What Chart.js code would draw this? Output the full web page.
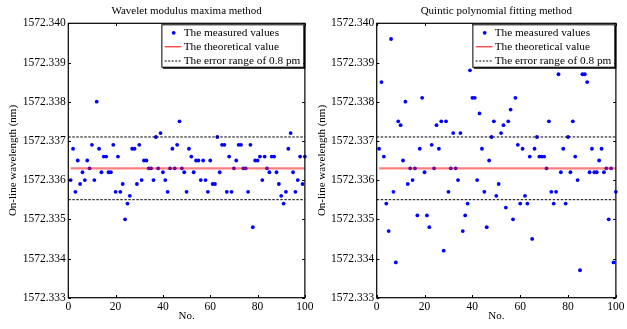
<!DOCTYPE html>
<html>
<head>
<meta charset="utf-8">
<script src="https://cdn.jsdelivr.net/npm/chart.js@4/dist/chart.umd.min.js"></script>
<style>
  html, body { margin: 0; padding: 0; background: #fff; }
  #wrap { position: relative; width: 627px; height: 329px; overflow: hidden; }
  canvas { position: absolute; top: 0; }
</style>
</head>
<body>
<div id="wrap">
  <canvas id="c1" width="316" height="329" style="left:0px"></canvas>
  <canvas id="c2" width="314" height="329" style="left:313px"></canvas>
</div>
<script>
// ---------- data ----------
const sampleNo = Array.from({length: 100}, (_, i) => i + 1);

const waveletValues = [
  1572.3360, 1572.3368, 1572.3357, 1572.3365, 1572.3359, 1572.3362, 1572.3360, 1572.3365, 1572.3363, 1572.3369,
  1572.3360, 1572.3380, 1572.3368, 1572.3362, 1572.3366, 1572.3366, 1572.3362, 1572.3362, 1572.3369, 1572.3357,
  1572.3366, 1572.3357, 1572.3359, 1572.3350, 1572.3354, 1572.3356, 1572.3368, 1572.3368, 1572.3359, 1572.3369,
  1572.3360, 1572.3365, 1572.3365, 1572.3363, 1572.3363, 1572.3360, 1572.3371, 1572.3363, 1572.3372, 1572.3362,
  1572.3360, 1572.3357, 1572.3363, 1572.3368, 1572.3363, 1572.3369, 1572.3375, 1572.3363, 1572.3362, 1572.3357,
  1572.3368, 1572.3366, 1572.3362, 1572.3365, 1572.3365, 1572.3360, 1572.3365, 1572.3360, 1572.3357, 1572.3365,
  1572.3359, 1572.3359, 1572.3371, 1572.3362, 1572.3369, 1572.3369, 1572.3357, 1572.3366, 1572.3357, 1572.3363,
  1572.3365, 1572.3369, 1572.3369, 1572.3363, 1572.3363, 1572.3357, 1572.3369, 1572.3348, 1572.3365, 1572.3365,
  1572.3366, 1572.3360, 1572.3366, 1572.3363, 1572.3362, 1572.3366, 1572.3366, 1572.3362, 1572.3359, 1572.3356,
  1572.3354, 1572.3357, 1572.3368, 1572.3372, 1572.3362, 1572.3357, 1572.3360, 1572.3366, 1572.3359, 1572.3366
];

const quinticValues = [
  1572.3368, 1572.3385, 1572.3366, 1572.3354, 1572.3347, 1572.3396, 1572.3357, 1572.3339, 1572.3375, 1572.3374,
  1572.3365, 1572.3380, 1572.3359, 1572.3363, 1572.3360, 1572.3363, 1572.3351, 1572.3368, 1572.3381, 1572.3362,
  1572.3351, 1572.3348, 1572.3369, 1572.3363, 1572.3374, 1572.3368, 1572.3375, 1572.3342, 1572.3375, 1572.3357,
  1572.3363, 1572.3372, 1572.3363, 1572.3360, 1572.3372, 1572.3347, 1572.3351, 1572.3354, 1572.3388, 1572.3381,
  1572.3381, 1572.3360, 1572.3377, 1572.3368, 1572.3357, 1572.3348, 1572.3365, 1572.3371, 1572.3375, 1572.3356,
  1572.3359, 1572.3372, 1572.3374, 1572.3353, 1572.3375, 1572.3378, 1572.3350, 1572.3381, 1572.3369, 1572.3354,
  1572.3368, 1572.3356, 1572.3354, 1572.3366, 1572.3345, 1572.3368, 1572.3371, 1572.3366, 1572.3366, 1572.3366,
  1572.3363, 1572.3375, 1572.3357, 1572.3354, 1572.3357, 1572.3387, 1572.3362, 1572.3368, 1572.3354, 1572.3371,
  1572.3362, 1572.3375, 1572.3366, 1572.3360, 1572.3337, 1572.3387, 1572.3387, 1572.3385, 1572.3362, 1572.3368,
  1572.3362, 1572.3362, 1572.3365, 1572.3368, 1572.3362, 1572.3363, 1572.3350, 1572.3363, 1572.3339, 1572.3357
];

const theoreticalValue = 1572.3363;
const errorRange = 0.0008;
const theoryRangeX = [1, 100];
const errorRangeX = [0, 100];

const yTickValues = [1572.333, 1572.334, 1572.335, 1572.336, 1572.337, 1572.338, 1572.339, 1572.340];
const yTickLabels = ['1572.333', '1572.334', '1572.335', '1572.336', '1572.337', '1572.338', '1572.339', '1572.340'];
const xTickValues = [0, 20, 40, 60, 80, 100];
const xTickLabels = ['0', '20', '40', '60', '80', '100'];

const chartTitles = ['Wavelet modulus maxima method', 'Quintic polynomial fitting method'];
const legendLabels = ['The measured values', 'The theoretical value', 'The error range of 0.8 pm'];
const xAxisTitle = 'No.';
const yAxisTitle = 'On-line wavelength (nm)';

// ---------- styling ----------
const FONT = '"Liberation Serif", "Times New Roman", "DejaVu Serif", serif';
const BLUE = '#0000ff';

const framePlugin = {
  id: 'frame',
  afterDatasetsDraw(chart) {
    const {ctx, chartArea: a, scales} = chart;
    const tl = 2.7;
    ctx.save();
    ctx.strokeStyle = '#000';
    ctx.lineWidth = 1;
    ctx.beginPath();
    for (const t of scales.x.ticks) {
      const px = Math.round(scales.x.getPixelForValue(t.value)) + 0.5;
      ctx.moveTo(px, a.bottom); ctx.lineTo(px, a.bottom - tl);
      ctx.moveTo(px, a.top); ctx.lineTo(px, a.top + tl);
    }
    for (const t of scales.y.ticks) {
      const py = Math.round(scales.y.getPixelForValue(t.value)) + 0.5;
      ctx.moveTo(a.left, py); ctx.lineTo(a.left + tl, py);
      ctx.moveTo(a.right, py); ctx.lineTo(a.right - tl, py);
    }
    ctx.stroke();
    ctx.lineWidth = 1.2;
    ctx.strokeRect(a.left, a.top, a.right - a.left, a.bottom - a.top);
    ctx.restore();
  },
  afterDraw(chart) {
    const {ctx, chartArea: a} = chart;
    ctx.save();
    // chart title centred over the plot area
    ctx.fillStyle = '#000';
    ctx.font = '11px ' + FONT;
    ctx.textAlign = 'center';
    ctx.textBaseline = 'middle';
    ctx.fillText(chart.options.plugins.frame.title, (a.left + a.right) / 2, 11);

    const w = 142, h = 42.4;
    const x0 = a.right - w - 1.5, y0 = a.top + 1;
    ctx.fillStyle = '#fff';
    ctx.fillRect(x0, y0, w, h);
    ctx.strokeStyle = '#000';
    ctx.lineWidth = 1;
    ctx.strokeRect(x0 + 0.5, y0 + 0.5, w, h);
    ctx.lineWidth = 1.5;
    ctx.beginPath();
    ctx.moveTo(x0 + w + 1.2, y0 + 1.5); ctx.lineTo(x0 + w + 1.2, y0 + h + 1.2);
    ctx.lineTo(x0 + 1.5, y0 + h + 1.2);
    ctx.stroke();
    const rows = [y0 + 8.5, y0 + 22, y0 + 36.2];
    ctx.fillStyle = BLUE;
    ctx.beginPath(); ctx.arc(x0 + 12.3, rows[0], 1.9, 0, Math.PI * 2); ctx.fill();
    ctx.strokeStyle = '#ff0000'; ctx.lineWidth = 1;
    ctx.beginPath(); ctx.moveTo(x0 + 3.3, rows[1] + 0.5); ctx.lineTo(x0 + 20, rows[1] + 0.5); ctx.stroke();
    ctx.strokeStyle = '#000'; ctx.setLineDash([2, 1.5]);
    ctx.beginPath(); ctx.moveTo(x0 + 3.3, rows[2] + 0.5); ctx.lineTo(x0 + 20, rows[2] + 0.5); ctx.stroke();
    ctx.setLineDash([]);
    ctx.fillStyle = '#000';
    ctx.font = '11.3px ' + FONT;
    ctx.textBaseline = 'middle';
    ctx.textAlign = 'left';
    legendLabels.forEach((s, i) => ctx.fillText(s, x0 + 22.3, rows[i] + 0.5));
    ctx.restore();
  }
};

function makeChart(id, values, title, yAxisWidth, padRight, yTitlePad) {
  const measured = sampleNo.map((n, i) => ({x: n, y: values[i]}));
  const theory = theoryRangeX.map(x => ({x, y: theoreticalValue}));
  const upper = errorRangeX.map(x => ({x, y: +(theoreticalValue + errorRange).toFixed(4)}));
  const lower = errorRangeX.map(x => ({x, y: +(theoreticalValue - errorRange).toFixed(4)}));
  return new Chart(document.getElementById(id), {
    type: 'scatter',
    data: {
      datasets: [
        {label: legendLabels[1], data: theory, type: 'line', showLine: true, pointRadius: 0,
         borderColor: 'rgba(245,20,20,0.55)', borderWidth: 2.2, order: 0, clip: false},
        {label: legendLabels[2], data: upper, type: 'line', showLine: true, pointRadius: 0,
         borderColor: '#000', borderWidth: 1, borderDash: [2.5, 1.5], order: 1},
        {label: legendLabels[2], data: lower, type: 'line', showLine: true, pointRadius: 0,
         borderColor: '#000', borderWidth: 1, borderDash: [2.5, 1.5], order: 1},
        {label: legendLabels[0], data: measured, pointRadius: 1.9, pointHoverRadius: 1.9,
         backgroundColor: BLUE, borderColor: BLUE, borderWidth: 0, order: 2, clip: false}
      ]
    },
    options: {
      responsive: false,
      animation: false,
      devicePixelRatio: 1,
      layout: {padding: {left: 0, right: padRight, top: 23.3, bottom: 0}},
      plugins: {
        legend: {display: false},
        tooltip: {enabled: false},
        title: {display: false},
        frame: {title: title}
      },
      scales: {
        x: {
          type: 'linear', min: xTickValues[0], max: xTickValues[xTickValues.length - 1],
          afterBuildTicks: s => { s.ticks = xTickValues.map(v => ({value: v})); },
          afterFit: s => { s.height = 31.3; },
          ticks: {color: '#000', font: {family: FONT, size: 11.5}, padding: 2.5,
                  callback: (v, i) => xTickLabels[i], maxRotation: 0},
          grid: {display: false, drawTicks: false},
          border: {display: false},
          title: {display: true, text: xAxisTitle, color: '#000',
                  font: {family: FONT, size: 11}, padding: {top: 0, bottom: 6.4}}
        },
        y: {
          type: 'linear', min: yTickValues[0], max: yTickValues[yTickValues.length - 1],
          afterBuildTicks: s => { s.ticks = yTickValues.map(v => ({value: v})); },
          afterFit: s => { s.width = yAxisWidth; },
          ticks: {color: '#000', font: {family: FONT, size: 11.5}, padding: 2.5,
                  callback: (v, i) => yTickLabels[i]},
          grid: {display: false, drawTicks: false},
          border: {display: false},
          title: {display: true, text: yAxisTitle, color: '#000',
                  font: {family: FONT, size: 11}, padding: {top: yTitlePad, bottom: 0}}
        }
      }
    },
    plugins: [framePlugin]
  });
}

makeChart('c1', waveletValues, chartTitles[0], 68.3, 4.3, 6.6);
makeChart('c2', quinticValues, chartTitles[1], 63.7, 6.3, 2.6);
</script>
</body>
</html>
